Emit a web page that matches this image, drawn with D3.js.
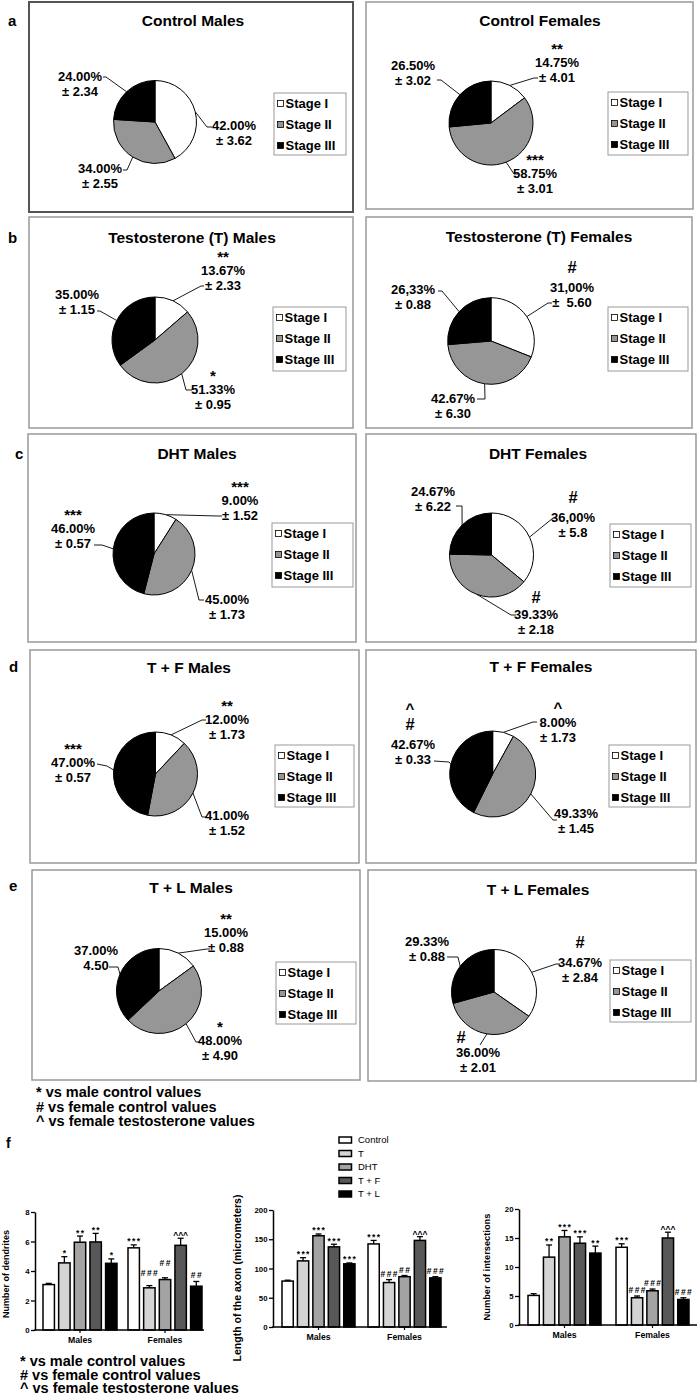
<!DOCTYPE html>
<html><head><meta charset="utf-8">
<script src="https://cdn.jsdelivr.net/npm/d3@7"></script>
<style>
body{margin:0;background:#fff;}
svg{display:block;font-family:"Liberation Sans",Arial,Helvetica,sans-serif;}
text{white-space:pre;fill:#000;}
</style></head><body>
<svg id="c" width="697" height="1396"></svg>
<script>
// ---------------- DATA ----------------
const stages = ["Stage I","Stage II","Stage III"];
const rowLetters = ["a","b","c","d","e"];
const pieTitles = ["Control Males","Control Females","Testosterone (T) Males","Testosterone (T) Females","DHT Males","DHT Females","T + F Males","T + F Females","T + L Males","T + L Females"];
const pieValues = [[42,34,24],[14.75,58.75,26.5],[13.67,51.33,35],[31,42.67,26.33],[9,45,46],[36,39.33,24.67],[12,41,47],[8,49.33,42.67],[15,48,37],[34.67,36,29.33]];
const piePctLabels = [["42.00%","34.00%","24.00%"],["14.75%","58.75%","26.50%"],["13.67%","51.33%","35.00%"],["31,00%","42.67%","26,33%"],["9.00%","45.00%","46.00%"],["36,00%","39.33%","24.67%"],["12.00%","41.00%","47.00%"],["8.00%","49.33%","42.67%"],["15.00%","48.00%","37.00%"],["34.67%","36.00%","29.33%"]];
const pieErrLabels = [["± 3.62","± 2.55","± 2.34"],["± 4.01","± 3.01","± 3.02"],["± 2.33","± 0.95","± 1.15"],["±  5.60","± 6.30","± 0.88"],["± 1.52","± 1.73","± 0.57"],["± 5.8","± 2.18","± 6.22"],["± 1.73","± 1.52","± 0.57"],["± 1.73","± 1.45","± 0.33"],["± 0.88","± 4.90","4.50"],["± 2.84","± 2.01","± 0.88"]];
const pieMarks = [[[],[],[]],[["**"],["***"],[]],[["**"],["*"],[]],[["#"],[],[]],[["***"],[],["***"]],[["#"],["#"],[]],[["**"],[],["***"]],[["^"],[],["#","^"]],[["**"],["*"],[]],[["#"],["#"],[]]];
const footnotes = ["* vs male control values","# vs female control values","^ vs female testosterone values"];

const barGroups = ["Males","Females"];
const barSeries = ["Control","T","DHT","T + F","T + L"];
const dendrites = [[3.08,4.55,5.95,5.97,4.52],[5.57,2.86,3.42,5.74,2.97]];
const dendritesErr = [[0.08,0.42,0.42,0.58,0.3],[0.2,0.15,0.12,0.48,0.32]];
const dendritesMarks = [["","*","**","**","*"],["***","###","##","^^^","##"]];
const axon = [[78.5,113,156,137,108],[142,76,86,148,84]];
const axonErr = [[1.5,5.5,3,4.5,1.5],[6,5,2,6.5,2]];
const axonMarks = [["","***","***","***","***"],["***","###","##","^^^","###"]];
const intersections = [[5.1,11.7,15.2,14.1,12.4],[13.4,4.7,5.9,15.0,4.4]];
const intersectionsErr = [[0.3,2.1,1.1,1.1,1.2],[0.6,0.3,0.3,1.0,0.3]];
const intersectionsMarks = [["","**","***","***","**"],["***","###","###","^^^","###"]];
const dendritesTicks = [0,2,4,6,8];
const axonTicks = [0,50,100,150,200];
const intersectionsTicks = [0,5,10,15,20];

// ---------------- LAYOUT ----------------
const pieLayout = [
 {box:[29,2,353,212], title:[193,26], pie:[155,122,41.5], legend:[274,93,346,155], dark:true,
  labels:[{x:234,y:130,lead:[[207,127],[212,127]]},{x:100,y:173,lead:[[127,170],[123,170]]},{x:80,y:81,lead:[[106,77],[103,77]]}]},
 {box:[366,2,693,209], title:[540,26], pie:[491,123,42], legend:[608,92,688,155],
  labels:[{x:557,y:67,lead:[[534,78],[538,78]]},{x:535,y:178,lead:[[514,174],[518,174]]},{x:413,y:70,lead:[[441,80],[437,80]]}]},
 {box:[29,217,353,428], title:[192,243], pie:[155,340,43], legend:[273,307,346,371],
  labels:[{x:223,y:275,lead:[[201,286],[204,286]]},{x:213,y:394,lead:[[186,390],[192,390]]},{x:77,y:299,lead:[[100,311],[97,311]]}]},
 {box:[366,217,692,428], title:[539,242], pie:[491,341,43.3], legend:[608,307,688,371],
  labels:[{x:572,y:292,lead:[[548,303],[552,303]]},{x:453,y:403,lead:[[485,399],[477,399]]},{x:413,y:294,lead:[[442,291],[438,291]]}]},
 {box:[28,434,356,642], title:[197,459], pie:[154,554,41], legend:[272,523,353,587],
  labels:[{x:240,y:505,lead:[[218,516],[222,516]]},{x:227,y:604,lead:[[199,600],[204,600]]},{x:73,y:533,lead:[[102,545],[94,545]]}]},
 {box:[366,434,696,642], title:[538,459], pie:[491.5,555,42], legend:[610,524,691,587],
  labels:[{x:573,y:522,lead:[[553,518],[557,518]]},{x:536,y:619,lead:[[511,615],[516,615]],mdy:-16},{x:433,y:496,lead:[[462,506],[456,506]]}]},
 {box:[30,650,359,863], title:[189,673], pie:[155.5,774,42], legend:[275,745,354,807],
  labels:[{x:227,y:724,lead:[[202,720],[206,720]]},{x:227,y:820,lead:[[202,817],[207,817]]},{x:73,y:767,lead:[[107,766],[97,764]]}]},
 {box:[366,650,696,863], title:[541,672], pie:[492.7,774,43], legend:[609,745,690,807],
  labels:[{x:558,y:727,lead:[[533,722],[537,722]]},{x:576,y:818,lead:[[553,820],[557,820]]},{x:413,y:749,lead:[[449,762],[434,761]],mdx:-3}]},
 {box:[32,870,360,1080], title:[191,893], pie:[159,991,42.5], legend:[276,962,356,1024],
  labels:[{x:226,y:937,lead:[[207,949],[210,949]]},{x:220,y:1045,lead:[[196,1042],[200,1042]]},{x:96,y:955,lead:[[118,967],[109,967]]}]},
 {box:[368,870,696,1081], title:[538,895], pie:[494,992,42.5], legend:[610,960,691,1022],
  labels:[{x:580,y:967,lead:[[556,964],[560,964]]},{x:478,y:1057,lead:[[480,1045]],mdy:-14,mdx:-17},{x:427,y:946,lead:[[458,957],[447,957]]}]}
];
const rowLetterPos = [[8,26],[8,243],[15,459],[9,672],[9,891]];

const barLayout = [
 {ax:35, y0:1330, y1:1212, x0:43, step:85, band:74, xEnd:204, tx:8.5, ty:1274, tsize:9, lift:[[0,0,0,0,0],[0,7,9,0,0]]},
 {ax:273, y0:1327, y1:1210, x0:282, step:86, band:73, xEnd:447, tx:241, ty:1278, tsize:10.5},
 {ax:519, y0:1325, y1:1209, x0:528, step:88, band:73, xEnd:697, tx:490, ty:1267, tsize:9.3}
];

// ---------------- DRAW ----------------
const svg = d3.select("#c");
const pieGen = d3.pie().sort(null).value(d=>d);
const pieFill = d3.scaleOrdinal().domain(stages).range(["#ffffff","#969696","#000000"]);
const markSize = m => m[0]==="*" ? 15 : (m[0]==="#" ? 16.5 : 15);
const markDy = m => m[0]==="*" ? -13 : (m[0]==="#" ? -19 : -14);

pieLayout.forEach((L,i)=>{
  const g = svg.append("g");
  const [bx0,by0,bx1,by1] = L.box;
  g.append("rect").attr("x",bx0).attr("y",by0).attr("width",bx1-bx0).attr("height",by1-by0)
    .attr("fill","none").attr("stroke",L.dark?"#555":"#999").attr("stroke-width",L.dark?2:1.5);
  g.append("text").attr("x",L.title[0]).attr("y",L.title[1]).attr("text-anchor","middle")
    .attr("font-size",15.5).attr("font-weight","bold").text(pieTitles[i]);
  const [cx,cy,r] = L.pie;
  const arcs = pieGen(pieValues[i]);
  const arc = d3.arc().innerRadius(0).outerRadius(r);
  const edge = d3.arc().innerRadius(r).outerRadius(r);
  arcs.forEach((d,j)=>{
    const p = edge.centroid(d);
    const pts = [[cx+p[0],cy+p[1]]].concat(L.labels[j].lead);
    g.append("path").attr("d",d3.line()(pts)).attr("fill","none").attr("stroke","#000").attr("stroke-width",0.9);
  });
  g.append("g").attr("transform",`translate(${cx},${cy})`)
    .selectAll("path").data(arcs).join("path").attr("d",arc)
    .attr("fill",(d,j)=>pieFill(stages[j])).attr("stroke","#000").attr("stroke-width",1);
  arcs.forEach((d,j)=>{
    const lab = L.labels[j];
    g.append("text").attr("x",lab.x).attr("y",lab.y).attr("text-anchor","middle")
      .attr("font-size",13).attr("font-weight","bold").text(piePctLabels[i][j]);
    g.append("text").attr("x",lab.x).attr("y",lab.y+14.5).attr("text-anchor","middle")
      .attr("font-size",13).attr("font-weight","bold").text(pieErrLabels[i][j]);
    let yy = 0;
    pieMarks[i][j].forEach((m,k)=>{
      const my = k===0 ? (lab.mdy!==undefined ? lab.y+lab.mdy : lab.y+markDy(m)) : yy - 16;
      yy = my;
      g.append("text").attr("x",lab.x+(lab.mdx||0)).attr("y",my).attr("text-anchor","middle")
        .attr("font-size",markSize(m)).attr("font-weight","bold").text(m);
    });
  });
  const [lx0,ly0,lx1,ly1] = L.legend;
  g.append("rect").attr("x",lx0).attr("y",ly0).attr("width",lx1-lx0).attr("height",ly1-ly0)
    .attr("fill","#fff").attr("stroke","#999").attr("stroke-width",1);
  stages.forEach((s,j)=>{
    const yc = ly0 + 10.5 + j*21;
    g.append("rect").attr("x",lx0+3.5).attr("y",yc-3).attr("width",6).attr("height",6)
      .attr("fill",pieFill(s)).attr("stroke","#000").attr("stroke-width",0.8);
    g.append("text").attr("x",lx0+11.5).attr("y",yc+4.6).attr("font-size",13).attr("font-weight","bold").text(s);
  });
});

rowLetters.forEach((l,k)=>{
  svg.append("text").attr("x",rowLetterPos[k][0]).attr("y",rowLetterPos[k][1])
    .attr("font-size",15).attr("font-weight","bold").text(l);
});

footnotes.forEach((t,k)=>{
  svg.append("text").attr("x",36).attr("y",1097+k*14.5).attr("font-size",14.5).attr("font-weight","bold").text(t);
});

svg.append("text").attr("x",6).attr("y",1148).attr("font-size",14).attr("font-weight","bold").text("f");

const barFill = d3.scaleOrdinal().domain(barSeries).range(["#ffffff","#d4d4d4","#a3a3a3","#585858","#000000"]);
barSeries.forEach((s,k)=>{
  const yc = 1140 + k*13.5;
  svg.append("rect").attr("x",339).attr("y",yc-3).attr("width",12.5).attr("height",6)
    .attr("fill",barFill(s)).attr("stroke","#000").attr("stroke-width",1.5);
  svg.append("text").attr("x",358).attr("y",yc+3.4).attr("font-size",9.5).text(s);
});

const barCharts = [
 {values:dendrites, errs:dendritesErr, marks:dendritesMarks, ticks:dendritesTicks, title:"Number of dendrites"},
 {values:axon, errs:axonErr, marks:axonMarks, ticks:axonTicks, title:"Length of the axon (micrometers)"},
 {values:intersections, errs:intersectionsErr, marks:intersectionsMarks, ticks:intersectionsTicks, title:"Number of intersections"}
];

barCharts.forEach((C,ci)=>{
  const L = barLayout[ci];
  const y = d3.scaleLinear().domain([0,d3.max(C.ticks)]).range([L.y0,L.y1]);
  const x0 = d3.scaleBand().domain(barGroups).range([L.x0, L.x0+L.step+L.band]).paddingInner((L.step-L.band)/L.step).paddingOuter(0);
  const x1 = d3.scaleBand().domain(barSeries).range([0,x0.bandwidth()]).paddingInner(0.27).paddingOuter(0);
  const g = svg.append("g");
  barGroups.forEach((grp,gi)=>{
    barSeries.forEach((s,si)=>{
      const v = C.values[gi][si], e = C.errs[gi][si];
      const bx = x0(grp)+x1(s), bw = x1.bandwidth(), cxb = bx+bw/2;
      g.append("line").attr("x1",cxb).attr("x2",cxb).attr("y1",y(v)).attr("y2",y(v+e)).attr("stroke","#000").attr("stroke-width",1.3);
      g.append("line").attr("x1",cxb-3).attr("x2",cxb+3).attr("y1",y(v+e)).attr("y2",y(v+e)).attr("stroke","#000").attr("stroke-width",1.3);
      g.append("rect").attr("x",bx).attr("y",y(v)).attr("width",bw).attr("height",y(0)-y(v))
        .attr("fill",barFill(s)).attr("stroke","#000").attr("stroke-width",1.5);
      const m = C.marks[gi][si];
      if(m){
        const top = y(v+e);
        const off = m[0]==="*" ? -0.5 : (m[0]==="#" ? -3 : 0);
        const lift = L.lift ? L.lift[gi][si] : 0;
        g.append("text").attr("x",cxb+(m[0]==="^"?0:0.7)).attr("y",top+off-lift).attr("text-anchor","middle")
          .attr("font-size",8.5).attr("font-weight","bold").attr("fill","#000")
          .attr("letter-spacing",m[0]==="^"?0:1.4).text(m);
      }
    });
  });
  const ya = g.append("g").attr("transform",`translate(${L.ax},0)`)
    .call(d3.axisLeft(y).tickValues(C.ticks).tickSize(4).tickSizeOuter(0).tickPadding(1.5));
  ya.select(".domain").attr("stroke-width",1.5);
  ya.selectAll(".tick line").attr("stroke-width",1.3);
  ya.selectAll(".tick text").attr("font-size",7.8).attr("font-weight","bold").attr("font-family",null).attr("fill","#000");
  g.append("line").attr("x1",L.ax-0.75).attr("x2",L.xEnd).attr("y1",L.y0).attr("y2",L.y0).attr("stroke","#000").attr("stroke-width",1.5);
  barGroups.forEach(grp=>{
    const gx = x0(grp)+x0.bandwidth()/2;
    g.append("line").attr("x1",gx).attr("x2",gx).attr("y1",L.y0).attr("y2",L.y0+3).attr("stroke","#000").attr("stroke-width",1.2);
    g.append("text").attr("x",gx).attr("y",L.y0+12.5).attr("text-anchor","middle").attr("font-size",8.7).attr("font-weight","bold").text(grp);
  });
  g.append("text").attr("transform",`translate(${L.tx},${L.ty}) rotate(-90)`).attr("text-anchor","middle")
    .attr("font-size",L.tsize).attr("font-weight","bold").text(C.title);
});

footnotes.forEach((t,k)=>{
  svg.append("text").attr("x",20).attr("y",1366+k*13.6).attr("font-size",14.5).attr("font-weight","bold").text(t);
});
</script>
</body></html>
